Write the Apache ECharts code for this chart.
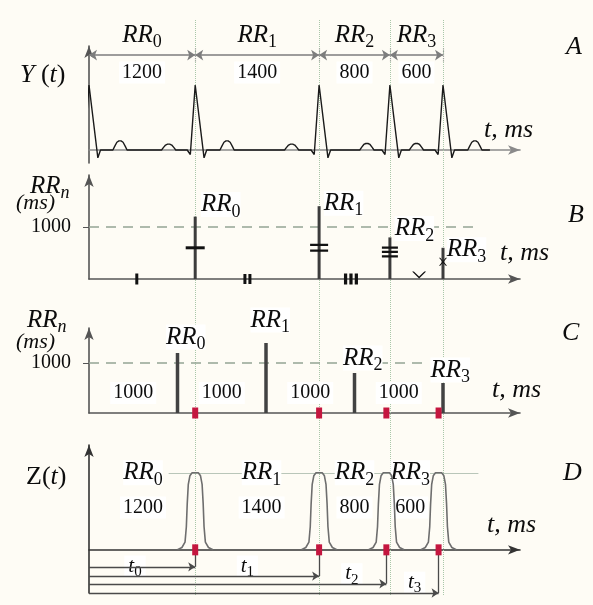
<!DOCTYPE html>
<html>
<head>
<meta charset="utf-8">
<script src="https://cdn.jsdelivr.net/npm/echarts@6/dist/echarts.min.js"></script>
<style>
html, body { margin: 0; padding: 0; background: #fefcf5; }
#chart { width: 593px; height: 605px; }
</style>
</head>
<body>
<div id="chart"></div>
<script>
// R peaks (ms) and the RR intervals between them
var rTimes = [0, 1200, 2600, 3400, 4000];
var rrSubs = ['0', '1', '2', '3'];
var rrValues = [1200, 1400, 800, 600];
var rrMidTimes = [600, 1900, 3000, 3700];

// panel C: resampled every 1000 ms
var sampleTimes = [1000, 2000, 3000, 4000];
var sampleValues = [1200, 1400, 800, 600];
var stepMidTimes = [500, 1500, 2500, 3500];
var stepLabels = ['1000', '1000', '1000', '1000'];

// panel D
var pulseTimes = [1200, 2600, 3360, 3950];
var pulseLabelTimes = [610, 1950, 3000, 3630];
var tLevels = [-0.22, -0.34, -0.44, -0.56];
var tLabelTimes = [520, 1790, 2970, 3680];
var tLabelLevels = [-0.21, -0.21, -0.31, -0.42];

// panel B tally marks
var tallyTimes = [540, 1790, 2960, 3730];
var barMarkValues = [600, 600, 520, 330];

// ECG pieces (ms offset, amplitude)
var qrsShape = [[-90, 0], [-55, -0.07], [0, 1], [100, -0.12], [130, 0]];
var ecgWaves = [[350, 0.14], [900, 0.09], [1560, 0.14], [2290, 0.09], [3140, 0.1], [3700, 0.1], [4360, 0.14]];
var waveShape = [[-80, 0], [-60, 0.4], [-35, 0.85], [-12, 1], [12, 1], [35, 0.85], [60, 0.4], [80, 0]];
var ecgEnd = 4530;
var pulseShape = [[-200, 0], [-150, 0.03], [-115, 0.1], [-100, 0.3], [-90, 0.6], [-78, 0.85], [-60, 0.96], [-35, 1],
                  [35, 1], [60, 0.96], [78, 0.85], [90, 0.6], [100, 0.3], [115, 0.1], [150, 0.03], [200, 0]];

var serif = '"Liberation Serif", "DejaVu Serif", serif';
var ink = '#0c0c0c';
var xMax = 4870;

// label layout (pixel offsets from bar top-left)
var bLabelAt = [[27, -12], [26, -3], [26, -9], [25, 2]];
var cLabelAt = [[10, -16], [6, -23], [10, -15], [9, -13]];

function rrRich(size, sub, subItalic) {
  return {
    a: { fontFamily: serif, fontStyle: 'italic', fontSize: size, lineHeight: size, verticalAlign: 'top', color: ink },
    b: { fontFamily: serif, fontStyle: subItalic ? 'italic' : 'normal', fontSize: sub, lineHeight: sub,
         padding: [Math.round(size * 0.42), 0, 0, 0], verticalAlign: 'top', color: ink }
  };
}

function buildEcg() {
  var pts = [];
  rTimes.forEach(function (r) {
    qrsShape.forEach(function (p) { pts.push([r + p[0], p[1]]); });
  });
  ecgWaves.forEach(function (w) {
    waveShape.forEach(function (p) { pts.push([w[0] + p[0], w[1] * p[1]]); });
  });
  pts.push([ecgEnd, 0]);
  pts.sort(function (a, b) { return a[0] - b[0]; });
  return pts;
}

function buildPulses() {
  var pts = [];
  pulseTimes.forEach(function (t) {
    pulseShape.forEach(function (p) { pts.push([t + p[0], p[1]]); });
    pts.push([t + 220, null]);
  });
  return pts;
}

var tallySymbols = [
  'rect',
  'path://M0,0H3V10H0Z M5,0H8V10H5Z',
  'path://M0,0H3V10H0Z M5,0H8V10H5Z M10,0H13V10H10Z',
  'path://M0,0L6,7L12,0L10.5,0L6,5L1.5,0Z'
];
var tallySizes = [[3, 11], [8, 10], [14, 11], [14, 7]];
var barMarkSymbols = [
  'rect',
  'path://M0,0H10V2H0Z M0,5H10V7H0Z',
  'path://M0,0H10V2H0Z M0,4H10V6H0Z M0,8H10V10H0Z',
  'path://M0,0L1.5,0L5,4L8.5,0L10,0L5.75,5L10,10L8.5,10L5,6L1.5,10L0,10L4.25,5Z'
];
var barMarkSizes = [[19, 3], [18, 8], [16, 11], [8, 8]];

var chart = echarts.init(document.getElementById('chart'));

function xAx(i, show, color) {
  return {
    type: 'value', gridIndex: i, min: 0, max: xMax, show: show,
    axisLine: { show: true, symbol: ['none', 'arrow'], symbolSize: [7, 12], lineStyle: { color: color, width: 1.6 } },
    axisTick: { show: false }, axisLabel: { show: false }, splitLine: { show: false }
  };
}
function yAx(i, min, max, color, labels) {
  return {
    type: 'value', gridIndex: i, min: min, max: max,
    axisLine: { show: true, symbol: ['none', 'arrow'], symbolSize: [7, 12], lineStyle: { color: color, width: 1.6 } },
    axisTick: labels ? { show: true, length: 6, customValues: labels, lineStyle: { color: color } } : { show: false },
    axisLabel: labels ? {
      show: true, customValues: labels, fontFamily: serif, fontSize: 20, color: ink, margin: 18,
      formatter: function (v) { return String(v); }
    } : { show: false },
    splitLine: { show: false }
  };
}

var hidden = { color: 'rgba(0,0,0,0)', opacity: 1 };

function sideText(x, y, text, size, italic) {
  return { type: 'text', x: x, y: y, z: 10, style: { text: text, fontFamily: serif, fontStyle: italic ? 'italic' : 'normal', fontSize: size, fill: ink, verticalAlign: 'middle' } };
}
function richText(x, y, text, rich) {
  return { type: 'text', x: x, y: y, z: 10, style: { text: text, rich: rich, fontFamily: serif, fontSize: 26, fill: ink, verticalAlign: 'middle' } };
}

var italicRich = { i: { fontFamily: serif, fontStyle: 'italic', fontSize: 26, color: ink }, u: { fontFamily: serif, fontSize: 26, color: ink } };

var option = {
  backgroundColor: '#fefcf5',
  animation: false,
  grid: [
    { left: 89, width: 431, top: 20, height: 575 },
    { left: 89, width: 431, top: 46, height: 117 },
    { left: 89, width: 431, top: 175, height: 104 },
    { left: 89, width: 431, top: 328, height: 85 },
    { left: 89, width: 431, top: 445, height: 148 }
  ],
  xAxis: [xAx(0, false, '#000'), xAx(1, true, '#8a8a8a'), xAx(2, true, '#555'), xAx(3, true, '#555'), xAx(4, true, '#333')],
  yAxis: [
    { type: 'value', gridIndex: 0, min: 0, max: 1, show: false },
    yAx(1, -0.2, 1.6, '#555', null),
    yAx(2, 0, 2000, '#555', [1000]),
    yAx(3, 0, 1700, '#555', [1000]),
    yAx(4, -0.56, 1.36, '#333', null)
  ],
  graphic: [
    richText(20, 75, '{i|Y} {u|(}{i|t}{u|)}', italicRich),
    sideText(566, 47, 'A', 26, true),
    sideText(484, 130, 't, ms', 26, true),

    richText(30, 186, '{a|RR}{b|n}', rrRich(25, 18, true)),
    sideText(16, 203, '(ms)', 22, true),
    sideText(500, 253, 't, ms', 26, true),
    sideText(568, 215, 'B', 26, true),

    richText(27, 320, '{a|RR}{b|n}', rrRich(25, 18, true)),
    sideText(16, 342, '(ms)', 22, true),
    sideText(492, 390, 't, ms', 26, true),
    sideText(562, 333, 'C', 26, true),

    richText(26, 477, '{u|Z(}{i|t}{u|)}', italicRich),
    sideText(563, 473, 'D', 26, true),
    sideText(487, 525, 't, ms', 26, true)
  ],
  series: [
    // faint dotted verticals through all panels
    {
      type: 'line', xAxisIndex: 0, yAxisIndex: 0, data: [], silent: true, z: 1,
      markLine: {
        silent: true, symbol: 'none', label: { show: false }, z: 1,
        lineStyle: { color: '#a9c7a9', type: 'dotted', width: 1 },
        data: rTimes.slice(1).map(function (t) { return { xAxis: t }; })
      }
    },
    // A: ECG
    {
      type: 'line', xAxisIndex: 1, yAxisIndex: 1, data: buildEcg(), showSymbol: false, clip: false, z: 5,
      lineStyle: { color: '#1a1a1a', width: 1.4 },
      markLine: {
        silent: true, symbol: ['arrow', 'arrow'], symbolSize: 8, label: { show: false },
        lineStyle: { color: '#7d7d7d', type: 'solid', width: 1.5 },
        data: rrValues.map(function (v, i) {
          return [{ coord: [rTimes[i], 1.46] }, { coord: [rTimes[i + 1], 1.46] }];
        })
      }
    },
    {
      type: 'line', xAxisIndex: 1, yAxisIndex: 1, data: [], silent: true,
      markLine: {
        silent: true, symbol: 'none', label: { show: false },
        lineStyle: { color: '#9a9a9a', type: 'dotted', width: 1.2 },
        data: rTimes.slice(1).map(function (t) { return [{ coord: [t, 1.36] }, { coord: [t, 1.56] }]; })
      }
    },
    {
      type: 'scatter', xAxisIndex: 1, yAxisIndex: 1, symbolSize: 1, itemStyle: hidden, clip: false,
      data: rrMidTimes.map(function (t) { return [t, 1.46]; }),
      label: {
        show: true, position: 'top', distance: 7,
        formatter: function (p) { return '{a|RR}{b|' + rrSubs[p.dataIndex] + '}'; },
        rich: rrRich(25, 18)
      }
    },
    {
      type: 'scatter', xAxisIndex: 1, yAxisIndex: 1, symbolSize: 1, itemStyle: hidden, clip: false,
      data: rrMidTimes.map(function (t) { return [t, 1.46]; }),
      label: {
        show: true, position: 'bottom', distance: 6,
        formatter: function (p) { return String(rrValues[p.dataIndex]); },
        fontFamily: serif, fontSize: 20, color: ink, backgroundColor: '#fff', padding: [1, 3]
      }
    },
    // B: RR intervals at R peaks
    {
      type: 'bar', xAxisIndex: 2, yAxisIndex: 2, barWidth: 3, z: 4,
      itemStyle: { color: '#3c3c3c' },
      data: rrValues.map(function (v, i) {
        return { value: [rTimes[i + 1], v], label: { position: bLabelAt[i] } };
      }),
      label: {
        show: true, align: 'center', verticalAlign: 'middle',
        formatter: function (p) { return '{a|RR}{b|' + rrSubs[p.dataIndex] + '}'; },
        rich: rrRich(25, 18), backgroundColor: '#fff'
      },
      markLine: {
        silent: true, symbol: 'none', label: { show: false }, z: 2,
        lineStyle: { color: '#94a494', type: [10, 7], width: 1.5 },
        data: [[{ coord: [0, 1000] }, { coord: [4400, 1000] }]]
      }
    },
    {
      type: 'scatter', xAxisIndex: 2, yAxisIndex: 2, z: 6, itemStyle: { color: '#111', opacity: 1 },
      data: tallyTimes.map(function (t, i) {
        return { value: [t, 0], symbol: tallySymbols[i], symbolSize: tallySizes[i], symbolOffset: i === 3 ? [0, -4] : [0, 0] };
      }).concat(barMarkValues.map(function (v, i) {
        return { value: [rTimes[i + 1], v], symbol: barMarkSymbols[i], symbolSize: barMarkSizes[i] };
      }))
    },
    // C: resampled series
    {
      type: 'bar', xAxisIndex: 3, yAxisIndex: 3, barWidth: 3.5, z: 4,
      itemStyle: { color: '#424242' },
      data: sampleValues.map(function (v, i) {
        return { value: [sampleTimes[i], v], label: { position: cLabelAt[i] } };
      }),
      label: {
        show: true, align: 'center', verticalAlign: 'middle',
        formatter: function (p) { return '{a|RR}{b|' + rrSubs[p.dataIndex] + '}'; },
        rich: rrRich(25, 18), backgroundColor: '#fff'
      },
      markLine: {
        silent: true, symbol: 'none', label: { show: false }, z: 2,
        lineStyle: { color: '#94a494', type: [10, 7], width: 1.5 },
        data: [[{ coord: [0, 1000] }, { coord: [3800, 1000] }]]
      }
    },
    {
      type: 'scatter', xAxisIndex: 3, yAxisIndex: 3, symbolSize: 1, itemStyle: hidden,
      data: stepMidTimes.map(function (t) { return [t, 400]; }),
      label: {
        show: true, position: 'inside',
        formatter: function (p) { return stepLabels[p.dataIndex]; },
        fontFamily: serif, fontSize: 20, color: ink, backgroundColor: '#fff', padding: [1, 3]
      }
    },
    {
      type: 'scatter', xAxisIndex: 3, yAxisIndex: 3, z: 7, symbol: 'rect', symbolSize: [6, 11],
      itemStyle: { color: '#c4163f', opacity: 1 },
      data: pulseTimes.map(function (t) { return [t, 0]; })
    },
    // D: pulse train
    {
      type: 'line', xAxisIndex: 4, yAxisIndex: 4, data: buildPulses(), showSymbol: false, connectNulls: false, z: 4,
      lineStyle: { color: '#6e6e6e', width: 1.6 },
      markLine: {
        silent: true, symbol: 'none', label: { show: false }, z: 2,
        lineStyle: { color: '#b9c6b9', type: 'solid', width: 1 },
        data: [[{ coord: [900, 1] }, { coord: [4400, 1] }]]
      }
    },
    {
      type: 'line', xAxisIndex: 4, yAxisIndex: 4, data: [], silent: true,
      markLine: {
        silent: true, symbol: ['none', 'arrow'], symbolSize: 7, label: { show: false },
        lineStyle: { color: '#4a4a4a', type: 'solid', width: 1.3 },
        data: pulseTimes.map(function (t, i) { return [{ coord: [0, tLevels[i]] }, { coord: [t, tLevels[i]] }]; })
      }
    },
    {
      type: 'line', xAxisIndex: 4, yAxisIndex: 4, data: [], silent: true,
      markLine: {
        silent: true, symbol: 'none', label: { show: false },
        lineStyle: { color: '#4a4a4a', type: 'solid', width: 1.3 },
        data: pulseTimes.map(function (t, i) { return [{ coord: [t, 0] }, { coord: [t, tLevels[i]] }]; })
      }
    },
    {
      type: 'scatter', xAxisIndex: 4, yAxisIndex: 4, z: 7, symbol: 'rect', symbolSize: [6, 11],
      itemStyle: { color: '#c4163f', opacity: 1 },
      data: pulseTimes.map(function (t) { return [t, 0]; })
    },
    {
      type: 'scatter', xAxisIndex: 4, yAxisIndex: 4, symbolSize: 1, itemStyle: hidden,
      data: pulseLabelTimes.map(function (t) { return [t, 1.0]; }),
      label: {
        show: true, position: 'inside',
        formatter: function (p) { return '{a|RR}{b|' + rrSubs[p.dataIndex] + '}'; },
        rich: rrRich(25, 18), backgroundColor: '#fff'
      }
    },
    {
      type: 'scatter', xAxisIndex: 4, yAxisIndex: 4, symbolSize: 1, itemStyle: hidden,
      data: pulseLabelTimes.map(function (t) { return [t, 0.55]; }),
      label: {
        show: true, position: 'inside',
        formatter: function (p) { return String(rrValues[p.dataIndex]); },
        fontFamily: serif, fontSize: 20, color: ink, backgroundColor: '#fff', padding: [1, 3]
      }
    },
    {
      type: 'scatter', xAxisIndex: 4, yAxisIndex: 4, symbolSize: 1, itemStyle: hidden, clip: false,
      data: tLabelTimes.map(function (t, i) { return [t, tLabelLevels[i]]; }),
      label: {
        show: true, position: 'inside',
        formatter: function (p) { return '{a|t}{b|' + rrSubs[p.dataIndex] + '}'; },
        rich: rrRich(21, 15), backgroundColor: '#fff', padding: [0, 4]
      }
    }
  ]
};

chart.setOption(option);
</script>
</body>
</html>
